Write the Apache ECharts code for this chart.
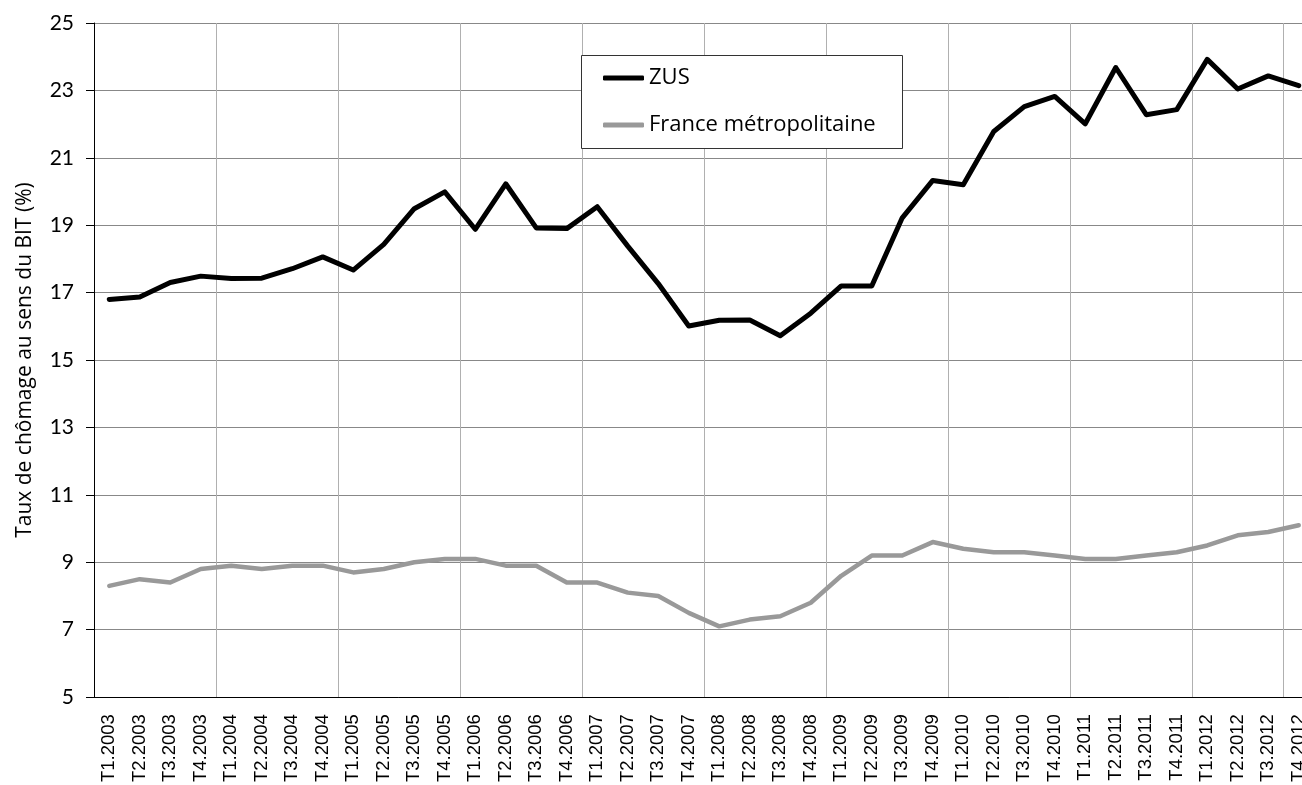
<!DOCTYPE html>
<html>
<head>
<meta charset="utf-8">
<script src="https://cdn.jsdelivr.net/npm/echarts@6/dist/echarts.min.js"></script>
<style>
html,body{margin:0;padding:0;background:#fff;overflow:hidden;width:1302px;height:785px;}
#chart{width:1314px;height:785px;}
</style>
</head>
<body>
<div id="chart"></div>
<script>
const categories = [
  'T1.2003','T2.2003','T3.2003','T4.2003',
  'T1.2004','T2.2004','T3.2004','T4.2004',
  'T1.2005','T2.2005','T3.2005','T4.2005',
  'T1.2006','T2.2006','T3.2006','T4.2006',
  'T1.2007','T2.2007','T3.2007','T4.2007',
  'T1.2008','T2.2008','T3.2008','T4.2008',
  'T1.2009','T2.2009','T3.2009','T4.2009',
  'T1.2010','T2.2010','T3.2010','T4.2010',
  'T1.2011','T2.2011','T3.2011','T4.2011',
  'T1.2012','T2.2012','T3.2012','T4.2012'
];
const zusValues = [
  16.8, 16.87, 17.3, 17.49,
  17.42, 17.43, 17.71, 18.06,
  17.67, 18.43, 19.49, 19.99,
  18.88, 20.23, 18.92, 18.9,
  19.55, 18.38, 17.27, 16.01,
  16.18, 16.19, 15.72, 16.39,
  17.2, 17.2, 19.22, 20.33,
  20.2, 21.78, 22.52, 22.82,
  22.01, 23.68, 22.28, 22.43,
  23.92, 23.04, 23.43, 23.14
];
const franceValues = [
  8.3, 8.5, 8.4, 8.8,
  8.9, 8.8, 8.9, 8.9,
  8.7, 8.8, 9.0, 9.1,
  9.1, 8.9, 8.9, 8.4,
  8.4, 8.1, 8.0, 7.5,
  7.1, 7.3, 7.4, 7.8,
  8.6, 9.2, 9.2, 9.6,
  9.4, 9.3, 9.3, 9.2,
  9.1, 9.1, 9.2, 9.3,
  9.5, 9.8, 9.9, 10.1
];
const seriesNames = ['ZUS', 'France métropolitaine'];
const yAxisTitle = 'Taux de chômage au sens du BIT (%)';

const chart = echarts.init(document.getElementById('chart'), null, {renderer: 'canvas'});
chart.setOption({
  animation: false,
  backgroundColor: '#fff',
  grid: {left: 94, right: 0, top: 23, bottom: 86, containLabel: false},
  graphic: [{
    type: 'rect', left: 581, top: 55, z: 100,
    shape: {width: 321, height: 93},
    style: {fill: '#fff', stroke: '#333', lineWidth: 1}
  }],
  legend: {
    z: 110,
    orient: 'vertical',
    left: 603, top: 65,
    padding: 0,
    itemWidth: 41, itemHeight: 5, itemGap: 21,
    icon: 'roundRect',
    textStyle: {fontFamily: 'Open Sans', fontSize: 22, color: '#000', lineHeight: 26},
    data: seriesNames
  },
  xAxis: {
    type: 'category',
    data: categories,
    boundaryGap: true,
    axisLine: {lineStyle: {color: '#000', width: 1}},
    axisTick: {interval: 3, length: 6, lineStyle: {color: '#000'}},
    splitLine: {show: true, interval: 3, lineStyle: {color: '#b0b0b0', width: 1}},
    axisLabel: {interval: 0, rotate: 90, fontFamily: 'Liberation Sans', fontSize: 18.5, color: '#000', margin: 17}
  },
  yAxis: {
    type: 'value',
    min: 5, max: 25, interval: 2,
    name: yAxisTitle,
    nameLocation: 'middle',
    nameGap: 58,
    nameRotate: 90,
    nameTextStyle: {fontFamily: 'Open Sans', fontSize: 21, color: '#000'},
    axisLine: {show: true, lineStyle: {color: '#000', width: 1}},
    axisTick: {show: true, length: 8, lineStyle: {color: '#000'}},
    splitLine: {show: true, lineStyle: {color: '#888', width: 1}},
    axisLabel: {fontFamily: 'Lato', fontSize: 21, color: '#000', margin: 20}
  },
  series: [
    {name: seriesNames[0], type: 'line', data: zusValues, symbol: 'none',
     lineStyle: {color: '#000', width: 5, cap: 'round', join: 'round'}, itemStyle: {color: '#000'}},
    {name: seriesNames[1], type: 'line', data: franceValues, symbol: 'none',
     lineStyle: {color: '#999', width: 4.5, cap: 'round', join: 'round'}, itemStyle: {color: '#999'}}
  ]
});
</script>
</body>
</html>
